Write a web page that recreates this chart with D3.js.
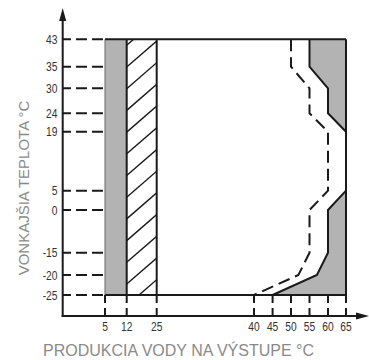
<!DOCTYPE html>
<html>
<head>
<meta charset="utf-8">
<script src="https://cdn.jsdelivr.net/npm/d3@7"></script>
<style>
  body { margin: 0; background: #fff; }
  svg { display: block; }
</style>
</head>
<body>
<div class="chart"></div>
<script>
// Chart data
const xTicks = [5, 12, 25, 40, 45, 50, 55, 60, 65];
const yTicks = [43, 35, 30, 24, 19, 5, 0, -15, -20, -25];
const grayBand = [5, 12];
const hatchBand = [12, 25];
// limit curves, one value per y tick
const solidLimit = [55, 55, 60, 60, 65, 65, 60, 60, 57, 45];
const dashedLimit = [50, 50, 55, 55, 60, 60, 55, 55, 52, 40];
const xTitle = "PRODUKCIA VODY NA VÝSTUPE °C";
const yTitle = "VONKAJŠIA TEPLOTA °C";

const width = 369, height = 360;
const ink = "#1a1a1a", fillGray = "#b3b3b3";

const svg = d3.select(".chart").append("svg")
  .attr("width", width).attr("height", height);

// Non-linear axes: each tick has its own place
const x = d3.scaleLinear()
  .domain(xTicks)
  .range([105, 126.7, 156.7, 254, 272.6, 291, 309.5, 328, 346]);
const y = d3.scaleLinear()
  .domain(yTicks)
  .range([39.3, 66.7, 88.3, 113.3, 131.7, 190.7, 210, 252.7, 275, 295]);

const axisX = 62.7, axisY = 316;
const yTop = y(43), yBottom = y(-25);

const defs = svg.append("defs");

// gray band
svg.append("rect")
  .attr("x", x(grayBand[0])).attr("y", yTop)
  .attr("width", x(grayBand[1]) - x(grayBand[0]))
  .attr("height", yBottom - yTop)
  .attr("fill", fillGray);

// hatched band
const hx0 = x(hatchBand[0]), hx1 = x(hatchBand[1]);
defs.append("clipPath").attr("id", "hclip")
  .append("rect").attr("x", hx0).attr("y", yTop).attr("width", hx1 - hx0).attr("height", yBottom - yTop);
const hatchG = svg.append("g").attr("clip-path", "url(#hclip)");
const step = 21.7, rise = 26;
for (let yy = yTop; yy < yBottom + rise; yy += step) {
  hatchG.append("line")
    .attr("x1", hx0).attr("y1", yy + 6)
    .attr("x2", hx1).attr("y2", yy + 6 - rise)
    .attr("stroke", ink).attr("stroke-width", 1.4);
}

// gray area right of the solid limit
const area = d3.area()
  .y((d, i) => y(yTicks[i]))
  .x0(d => x(d))
  .x1(() => x(65));
svg.append("path")
  .datum(solidLimit)
  .attr("fill", fillGray)
  .attr("d", area);

// frame lines
const frame = svg.append("g").attr("stroke", ink).attr("stroke-width", 2).attr("fill", "none");
frame.append("line").attr("x1", x(5)).attr("x2", x(65)).attr("y1", yTop).attr("y2", yTop);
frame.append("line").attr("x1", x(5)).attr("x2", x(65)).attr("y1", yBottom).attr("y2", yBottom);
frame.append("line").attr("x1", x(65)).attr("x2", x(65)).attr("y1", yTop).attr("y2", yBottom);
frame.append("line").attr("x1", x(5)).attr("x2", x(5)).attr("y1", yTop).attr("y2", yBottom).attr("stroke-width", 1).attr("stroke", "#666");
frame.append("line").attr("x1", x(12)).attr("x2", x(12)).attr("y1", yTop).attr("y2", yBottom);
frame.append("line").attr("x1", x(25)).attr("x2", x(25)).attr("y1", yTop).attr("y2", yBottom);

// limit curves
const line = d3.line()
  .x(d => x(d))
  .y((d, i) => y(yTicks[i]));
svg.append("path")
  .datum(solidLimit)
  .attr("fill", "none").attr("stroke", ink).attr("stroke-width", 2)
  .attr("d", line);
svg.append("path")
  .datum(dashedLimit)
  .attr("fill", "none").attr("stroke", ink).attr("stroke-width", 2)
  .attr("stroke-dasharray", "12,6")
  .attr("d", line);

// dashed tick guides
svg.append("g").selectAll("line")
  .data(yTicks)
  .join("line")
  .attr("x1", x(5) - 2).attr("x2", axisX)
  .attr("y1", d => y(d)).attr("y2", d => y(d))
  .attr("stroke", ink).attr("stroke-width", 2)
  .attr("stroke-dasharray", "11,5");
svg.append("g").selectAll("line")
  .data(xTicks)
  .join("line")
  .attr("x1", d => x(d)).attr("x2", d => x(d))
  .attr("y1", axisY).attr("y2", yBottom)
  .attr("stroke", ink).attr("stroke-width", 2)
  .attr("stroke-dasharray", "8,5");

// axes with arrows
svg.append("line").attr("x1", axisX).attr("x2", axisX).attr("y1", 18).attr("y2", axisY + 1)
  .attr("stroke", ink).attr("stroke-width", 2);
svg.append("line").attr("x1", axisX - 1).attr("x2", 360).attr("y1", axisY).attr("y2", axisY)
  .attr("stroke", ink).attr("stroke-width", 2);
svg.append("path").attr("d", `M${axisX},8 L${axisX - 3.5},21 L${axisX + 3.5},21 Z`).attr("fill", ink);
svg.append("path").attr("d", `M369,${axisY} L356,${axisY - 3.5} L356,${axisY + 3.5} Z`).attr("fill", ink);

// tick labels, narrowed like the original condensed face
const tickFont = "'Liberation Sans', Arial, sans-serif";
svg.append("g").selectAll("text")
  .data(yTicks)
  .join("text")
  .attr("transform", d => `translate(57.5,${y(d) + 4.5}) scale(0.82,1)`)
  .attr("text-anchor", "end")
  .attr("font-family", tickFont).attr("font-size", 12.5)
  .attr("fill", "#333")
  .text(d => d);
svg.append("g").selectAll("text")
  .data(xTicks)
  .join("text")
  .attr("transform", d => `translate(${x(d)},331) scale(0.82,1)`)
  .attr("text-anchor", "middle")
  .attr("font-family", tickFont).attr("font-size", 12.5)
  .attr("fill", "#333")
  .text(d => d);

// axis titles
svg.append("text")
  .attr("x", 178.5).attr("y", 356)
  .attr("text-anchor", "middle")
  .attr("font-family", "'Liberation Sans', Arial, sans-serif").attr("font-size", 16)
  .attr("fill", "#8a8a8a")
  .text(xTitle);
svg.append("text")
  .attr("transform", "translate(28.5,188) rotate(-90)")
  .attr("text-anchor", "middle")
  .attr("font-family", "'Liberation Sans', Arial, sans-serif").attr("font-size", 15)
  .attr("fill", "#8a8a8a")
  .text(yTitle);
</script>
</body>
</html>
